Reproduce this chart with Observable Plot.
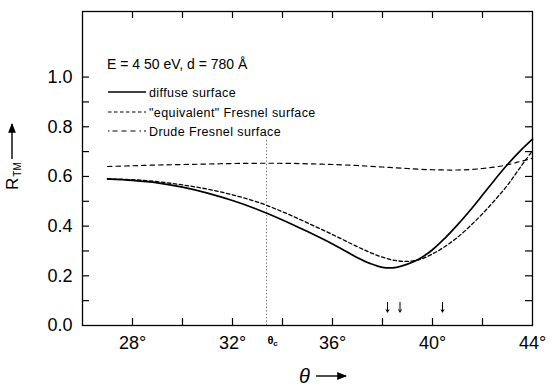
<!DOCTYPE html>
<html><head><meta charset="utf-8">
<script src="https://cdn.jsdelivr.net/npm/d3@7"></script>
<script src="https://cdn.jsdelivr.net/npm/@observablehq/plot@0.6"></script>
<style>
body{margin:0;background:#fff}
#wrap{position:relative;width:554px;height:389px}
#wrap svg{position:absolute;left:0;top:0}
</style>
</head><body><div id="wrap"></div>
<script>
// ---- data ----
const theta      = [27, 28, 29, 30, 31, 32, 33, 34, 35, 36, 37, 37.5, 38, 38.5, 39, 39.5, 40, 40.5, 41, 41.5, 42, 42.5, 43, 43.5, 44];
const diffuse    = [0.590,0.584,0.574,0.557,0.533,0.503,0.467,0.425,0.378,0.328,0.273,0.250,0.234,0.233,0.247,0.270,0.305,0.352,0.405,0.463,0.525,0.588,0.648,0.702,0.750];
const equivalent = [0.590,0.587,0.579,0.566,0.549,0.526,0.497,0.458,0.413,0.366,0.317,0.294,0.275,0.262,0.258,0.266,0.288,0.318,0.355,0.400,0.450,0.505,0.565,0.635,0.704];
const drude      = [0.640,0.643,0.646,0.648,0.650,0.652,0.653,0.653,0.651,0.648,0.644,0.641,0.638,0.635,0.632,0.629,0.627,0.626,0.626,0.628,0.632,0.638,0.647,0.660,0.673];
const seriesNames = ["diffuse surface", "\"equivalent\" Fresnel surface", "Drude Fresnel surface"];
const xTickMarks = [28, 30, 32, 34, 36, 38, 40, 42];
const xTickLabels = [28, 32, 36, 40, 44];
const yTickMarks = [0.1,0.2,0.3,0.4,0.5,0.6,0.7,0.8,0.9,1.0];
const yTickLabels = [0.0, 0.2, 0.4, 0.6, 0.8, 1.0];
const thetaC = 33.36;
const thetaCTop = 0.75;
const arrowTheta = [38.2, 38.7, 40.4];
const arrowR = [0.093, 0.054];
const annotation = "E = 4 50 eV,  d = 780 Å";
const yDomain = [0, 1.264];
const xDomain = [26, 44];

// ---- layout ----
const W = 554, H = 389, mL = 82, mR = 22, mT = 11, mB = 64;
const fW = W - mL - mR, fH = H - mT - mB, tk = 7;
const font = "'Liberation Sans', Arial, sans-serif";

const rows = (vals) => theta.map((t, i) => ({theta: t, R: vals[i]}));

const plot = Plot.plot({
  width: W, height: H,
  marginLeft: mL, marginRight: mR, marginTop: mT, marginBottom: mB,
  style: {fontFamily: font, background: "white", color: "black", overflow: "visible"},
  x: {domain: xDomain},
  y: {domain: yDomain},
  marks: [
    Plot.frame({stroke: "black", strokeWidth: 1.3}),
    Plot.tickX(xTickMarks, {x: d => d, insetTop: fH - tk, strokeWidth: 1.2}),
    Plot.tickX(xTickMarks, {x: d => d, insetBottom: fH - tk, strokeWidth: 1.2}),
    Plot.tickY(yTickMarks, {y: d => d, insetRight: fW - tk, strokeWidth: 1.2}),
    Plot.tickY(yTickMarks, {y: d => d, insetLeft: fW - tk, strokeWidth: 1.2}),
    Plot.axisX(xTickLabels, {tickSize: 0, tickPadding: 11, tickFormat: d => d + "°", fontSize: 18, label: null}),
    Plot.axisY(yTickLabels, {tickSize: 0, tickPadding: 10, tickFormat: d3.format(".1f"), fontSize: 18, label: null}),
    Plot.ruleX([thetaC], {y1: 0, y2: thetaCTop, stroke: "#666", strokeWidth: 1, strokeDasharray: "1.2,2.2"}),
    Plot.text(["θ"], {x: thetaC, y: 0, dx: 4, dy: 15, fontSize: 11, fontWeight: "bold", text: d => d}),
    Plot.text(["c"], {x: thetaC, y: 0, dx: 9, dy: 18, fontSize: 8, fontWeight: "bold", text: d => d}),
    Plot.arrow(arrowTheta, {x1: d => d, x2: d => d, y1: arrowR[0], y2: arrowR[1], headLength: 4, strokeWidth: 1, stroke: "black"}),
    Plot.line(rows(drude), {x: "theta", y: "R", curve: "catmull-rom", stroke: "black", strokeWidth: 1.2, strokeDasharray: "4.5,4"}),
    Plot.line(rows(equivalent), {x: "theta", y: "R", curve: "catmull-rom", stroke: "black", strokeWidth: 1.3, strokeDasharray: "3.5,2.5"}),
    Plot.line(rows(diffuse), {x: "theta", y: "R", curve: "catmull-rom", stroke: "black", strokeWidth: 1.7})
  ]
});
document.getElementById("wrap").appendChild(plot);

// ---- overlay: legend and axis titles ----
const ov = d3.select("#wrap").append("svg").attr("width", W).attr("height", H)
  .style("pointer-events", "none").style("font-family", font);
const defs = ov.append("defs");
defs.append("marker").attr("id", "ah").attr("viewBox", "0 0 10 10").attr("refX", 9).attr("refY", 5)
  .attr("markerWidth", 7).attr("markerHeight", 7).attr("orient", "auto")
  .append("path").attr("d", "M0,1L10,5L0,9Z").attr("fill", "black");

ov.append("text").attr("x", 107).attr("y", 69).attr("font-size", 14).text(annotation);
const dashes = [null, "3.5,2.5", "1.5,3,5,4,5,4,5,4"];
const legY = [92, 112, 131];
seriesNames.forEach((name, i) => {
  ov.append("line").attr("x1", 108).attr("x2", 146).attr("y1", legY[i]).attr("y2", legY[i])
    .attr("stroke", "black").attr("stroke-width", i === 0 ? 1.5 : 1.2)
    .attr("stroke-dasharray", dashes[i]);
  ov.append("text").attr("x", 149).attr("y", legY[i] + 4.5).attr("font-size", 12.5)
    .attr("letter-spacing", 0.4).text(name);
});

// y title: R_TM with arrow
const g = ov.append("g").attr("transform", "translate(18,190) rotate(-90)");
const t = g.append("text").attr("font-size", 17);
t.append("tspan").text("R");
t.append("tspan").attr("font-size", 10).attr("dy", 3).attr("dx", 1).text("TM");
g.append("line").attr("x1", 31).attr("x2", 66).attr("y1", -6).attr("y2", -6)
  .attr("stroke", "black").attr("stroke-width", 1.4).attr("marker-end", "url(#ah)");

// x title: theta with arrow
ov.append("text").attr("x", 299).attr("y", 383).attr("font-size", 20).attr("font-style", "italic").text("θ");
ov.append("line").attr("x1", 316).attr("x2", 346).attr("y1", 376).attr("y2", 376)
  .attr("stroke", "black").attr("stroke-width", 1.4).attr("marker-end", "url(#ah)");
</script>
</body></html>
